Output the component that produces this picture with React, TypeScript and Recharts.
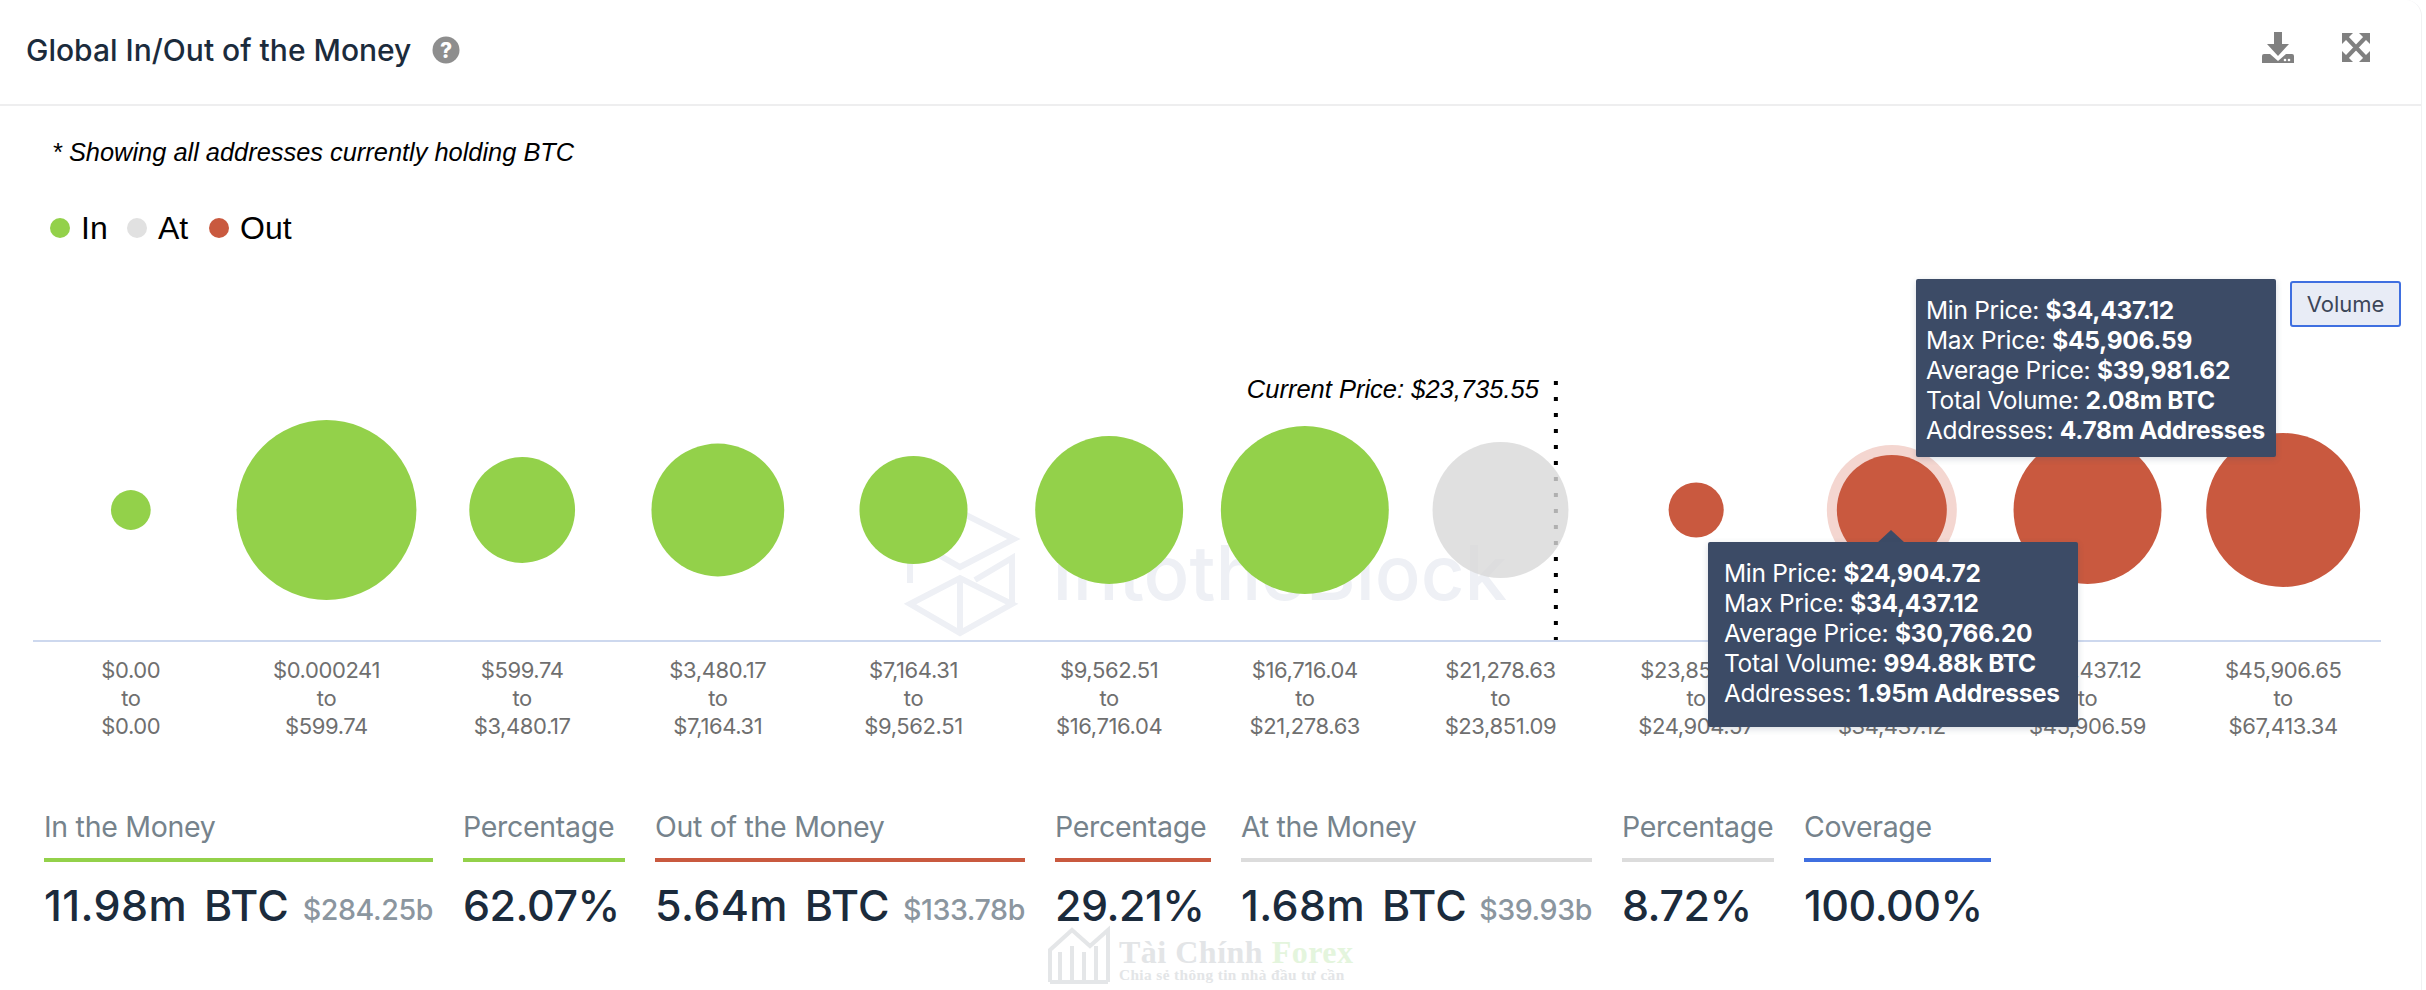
import React from 'react';
import { ScatterChart, Scatter, XAxis, YAxis, ZAxis, ReferenceLine } from 'recharts';

const rangeFrom = ['$0.00', '$0.000241', '$599.74', '$3,480.17', '$7,164.31', '$9,562.51', '$16,716.04', '$21,278.63', '$23,851.09', '$24,904.72', '$34,437.12', '$45,906.65'];
const rangeTo = ['$0.00', '$599.74', '$3,480.17', '$7,164.31', '$9,562.51', '$16,716.04', '$21,278.63', '$23,851.09', '$24,904.57', '$34,437.12', '$45,906.59', '$67,413.34'];
// bubble area per cluster, in million BTC
const bubbleSizes = [0.13, 2.66, 0.92, 1.45, 0.96, 1.8, 2.32, 1.52, 0.25, 0.995, 1.8, 1.95];
const inClusters = [0, 1, 2, 3, 4, 5, 6];
const atClusters = [7];
const outClusters = [8, 9, 10, 11];
const hoveredCluster = 9;
const currentPricePos = 7.283;

const legendItems = [
  { name: 'In', color: '#93d14a', dot: 60, text: 81 },
  { name: 'At', color: '#e1e1e1', dot: 137, text: 158 },
  { name: 'Out', color: '#c9593f', dot: 219, text: 240 },
];

const summaryLabels = ['In the Money', 'Percentage', 'Out of the Money', 'Percentage', 'At the Money', 'Percentage', 'Coverage'];
const summaryValues = ['11.98m BTC', '62.07%', '5.64m BTC', '29.21%', '1.68m BTC', '8.72%', '100.00%'];
const summaryUsd = ['$284.25b', '', '$133.78b', '', '$39.93b', '', ''];
const summaryColors = ['#93d14a', '#93d14a', '#c9593f', '#c9593f', '#dcdcdc', '#dcdcdc', '#3f6fe0'];
const summaryLeft = [44, 463, 655, 1055, 1241, 1622, 1804];
const summaryRight = [433, 625, 1025, 1211, 1592, 1774, 1991];

const tooltipLabels = ['Min Price', 'Max Price', 'Average Price', 'Total Volume', 'Addresses'];
const tooltipUpper = ['$34,437.12', '$45,906.59', '$39,981.62', '2.08m BTC', '4.78m Addresses'];
const tooltipLower = ['$24,904.72', '$34,437.12', '$30,766.20', '994.88k BTC', '1.95m Addresses'];

const FONT = 'Inter, sans-serif';
const HELV = '"Liberation Sans", Arial, sans-serif';

const toPoints = (ids: number[]) => ids.map((i) => ({ pos: i, y: 1, z: bubbleSizes[i] }));

const RangeTick = (props: any) => {
  const { x, y, payload } = props;
  const i = payload.value;
  return (
    <g fontFamily={FONT} fontSize={22} letterSpacing={-0.4} fill="#6f6f6f" textAnchor="middle">
      <text x={x} y={y + 29}>{rangeFrom[i]}</text>
      <text x={x} y={y + 57}>to</text>
      <text x={x} y={y + 85}>{rangeTo[i]}</text>
    </g>
  );
};

const OutBubble = (props: any) => {
  const { cx, cy, width, pos, fill } = props;
  const r = width / 2;
  return (
    <g>
      {pos === hoveredCluster && <circle cx={cx} cy={cy} r={r + 10} fill="#f4d6d0" />}
      <circle cx={cx} cy={cy} r={r} fill={fill} />
    </g>
  );
};

const Tip = ({ left, top, width, height, pad, rows }: any) => (
  <div
    style={{
      position: 'absolute', left, top, width, height, background: '#3c4b66', color: '#fff',
      fontFamily: FONT, fontSize: 24.5, letterSpacing: -0.3, lineHeight: '30px', borderRadius: 2,
      boxShadow: '0 2px 6px rgba(60,75,102,0.2)', boxSizing: 'border-box', paddingLeft: pad.x, paddingTop: pad.y, whiteSpace: 'nowrap',
    }}
  >
    {rows.map((v: string, i: number) => (
      <div key={i}>
        {tooltipLabels[i]}: <b>{v}</b>
      </div>
    ))}
  </div>
);

export default function App() {
  return (
    <div style={{ position: 'absolute', left: 0, top: 0, width: 2426, height: 990, background: '#fff', overflow: 'hidden' }}>
      <div style={{ position: 'absolute', left: 0, top: 0, width: 2421, height: 990, borderRight: '1px solid #f1f1f3', borderTopRightRadius: 16 }} />
      <div style={{ position: 'absolute', left: 26, top: 30, fontFamily: FONT, fontWeight: 500, fontSize: 30, lineHeight: '40px', color: '#1b2b3c', letterSpacing: 0 }}>
        Global In/Out of the Money
      </div>
      <svg style={{ position: 'absolute', left: 0, top: 0 }} width={2426} height={110}>
        <circle cx={446} cy={50} r={13.5} fill="#8e8e8e" />
        <text x={446} y={58} textAnchor="middle" fontFamily={FONT} fontWeight={800} fontSize={21} fill="#fff">?</text>
        <g fill="#808080">
          <path d="M2274 32h8v12h7l-11 12-11-12h7z" />
          <path d="M2262 56a2 2 0 0 1 2-2h6l8 7 8-7h6a2 2 0 0 1 2 2v7h-32z" />
        </g>
        <circle cx={2285} cy={60} r={1.3} fill="#fff" />
        <circle cx={2289} cy={60} r={1.3} fill="#fff" />
        <g fill="#808080">
          <path d="M2342 33h11l-11 11z" />
          <path d="M2370 33h-11l11 11z" />
          <path d="M2342 62h11l-11-11z" />
          <path d="M2370 62h-11l11-11z" />
        </g>
        <path d="M2347 38l18 19M2365 38l-18 19" stroke="#808080" strokeWidth={4} />
        <rect x={0} y={104} width={2421} height={2} fill="#eeeeef" />
      </svg>
      <div style={{ position: 'absolute', left: 52, top: 135, fontFamily: HELV, fontStyle: 'italic', fontSize: 25.4, lineHeight: '34px', color: '#000', whiteSpace: 'nowrap' }}>
        * Showing all addresses currently holding BTC
      </div>
      {legendItems.map((d) => (
        <React.Fragment key={d.name}>
          <div style={{ position: 'absolute', left: d.dot - 10, top: 218, width: 20, height: 20, borderRadius: 10, background: d.color }} />
          <div style={{ position: 'absolute', left: d.text, top: 208, fontFamily: HELV, fontSize: 32, lineHeight: '40px', color: '#000' }}>{d.name}</div>
        </React.Fragment>
      ))}

      {/* IntoTheBlock mark behind the bubbles */}
      <svg style={{ position: 'absolute', left: 0, top: 0 }} width={2426} height={700}>
        <g fill="none" stroke="#eef0f5" strokeWidth={6}>
          <path d="M910 583V543L960 512l54 27-54 28-30-17" />
          <path d="M910 604l50-26 52 26-52 29zM960 578v55M1012 604v-46l-37 22" />
        </g>
        <text x={1052} y={600} fontFamily={FONT} fontSize={76} fontWeight={500} fill="#eef0f5">IntotheBlock</text>
      </svg>

      <div style={{ position: 'absolute', left: 0, top: 0 }}>
        <ScatterChart width={2426} height={761} margin={{ top: 379, right: 45, bottom: 30, left: 33 }}>
          <XAxis
            type="number"
            dataKey="pos"
            domain={[-0.5, 11.5]}
            ticks={rangeFrom.map((_, i) => i)}
            interval={0}
            height={90}
            tickLine={false}
            axisLine={{ stroke: '#cdd8ee', strokeWidth: 2 }}
            tick={<RangeTick />}
          />
          <YAxis type="number" dataKey="y" domain={[0, 2]} hide />
          <ZAxis type="number" dataKey="z" domain={[0, 3]} range={[0, 28648]} />
          <ReferenceLine
            x={currentPricePos}
            stroke="#000"
            strokeWidth={4}
            strokeDasharray="4 12"
            zIndex={-1}
            label={{
              content: ({ viewBox }: any) => (
                <text x={viewBox.x - 17} y={viewBox.y + 19} textAnchor="end" fontFamily={HELV} fontStyle="italic" fontSize={25.5} fill="#000">
                  Current Price: $23,735.55
                </text>
              ),
            }}
          />
          <Scatter name="In" data={toPoints(inClusters)} fill="#93d14a" isAnimationActive={false} />
          <Scatter name="At" data={toPoints(atClusters)} fill="#d9d9d9" fillOpacity={0.81} isAnimationActive={false} />
          <Scatter name="Out" data={toPoints(outClusters)} fill="#c9593f" shape={<OutBubble />} isAnimationActive={false} />
        </ScatterChart>
      </div>

      <div style={{ position: 'absolute', left: 2290, top: 281, width: 111, height: 46, boxSizing: 'border-box', background: '#e8ecf6', border: '2px solid #3f6fe0', borderRadius: 3, fontFamily: FONT, fontSize: 22, color: '#3c4658', textAlign: 'center', lineHeight: '42px' }}>
        Volume
      </div>

      <Tip left={1916} top={279} width={360} height={178} pad={{ x: 10, y: 16 }} rows={tooltipUpper} />
      <svg style={{ position: 'absolute', left: 0, top: 0 }} width={2426} height={560}>
        <path d="M1891 530l14 13h-28z" fill="#3c4b66" />
      </svg>
      <Tip left={1708} top={542} width={370} height={185} pad={{ x: 16, y: 16 }} rows={tooltipLower} />

      {summaryLabels.map((label, i) => (
        <React.Fragment key={i}>
          <div style={{ position: 'absolute', left: summaryLeft[i], top: 809, fontFamily: FONT, fontSize: 28.5, lineHeight: '36px', letterSpacing: -0.3, color: '#76838c', whiteSpace: 'nowrap' }}>{label}</div>
          <div style={{ position: 'absolute', left: summaryLeft[i], top: 858, width: summaryRight[i] - summaryLeft[i], height: 4, background: summaryColors[i] }} />
          <div style={{ position: 'absolute', left: summaryLeft[i], top: 880, fontFamily: FONT, fontSize: 43, fontWeight: 500, lineHeight: '50px', letterSpacing: summaryUsd[i] ? 0.4 : -0.5, wordSpacing: 5, color: '#1b2b3c', whiteSpace: 'nowrap' }}>{summaryValues[i]}</div>
          {summaryUsd[i] && (
            <div style={{ position: 'absolute', right: 2426 - summaryRight[i], top: 888, fontFamily: FONT, fontSize: 28.6, fontWeight: 500, lineHeight: '44px', letterSpacing: -0.4, color: '#8b969f', whiteSpace: 'nowrap' }}>{summaryUsd[i]}</div>
          )}
        </React.Fragment>
      ))}

      {/* Site stamp at the bottom */}
      <svg style={{ position: 'absolute', left: 0, top: 900 }} width={2426} height={90}>
        <g fill="none" stroke="#e4e6e8" strokeWidth={4}>
          <path d="M1050 82V50l22-20 18 16 18-16v52" />
          <path d="M1060 82V52M1072 82V46M1084 82V52M1096 82V46" />
          <path d="M1050 82h58" />
        </g>
        <text x={1119} y={63} fontFamily='"Liberation Serif", serif' fontWeight={700} fontSize={32} letterSpacing={0.5} fill="#e3e5e7">
          Tài Chính <tspan fill="#e4f5dd">Forex</tspan>
        </text>
        <text x={1119} y={80} fontFamily='"Liberation Serif", serif' fontWeight={700} fontSize={15.3} letterSpacing={0.4} fill="#e3e5e7">
          Chia sẻ thông tin nhà đầu tư cần
        </text>
      </svg>
    </div>
  );
}
